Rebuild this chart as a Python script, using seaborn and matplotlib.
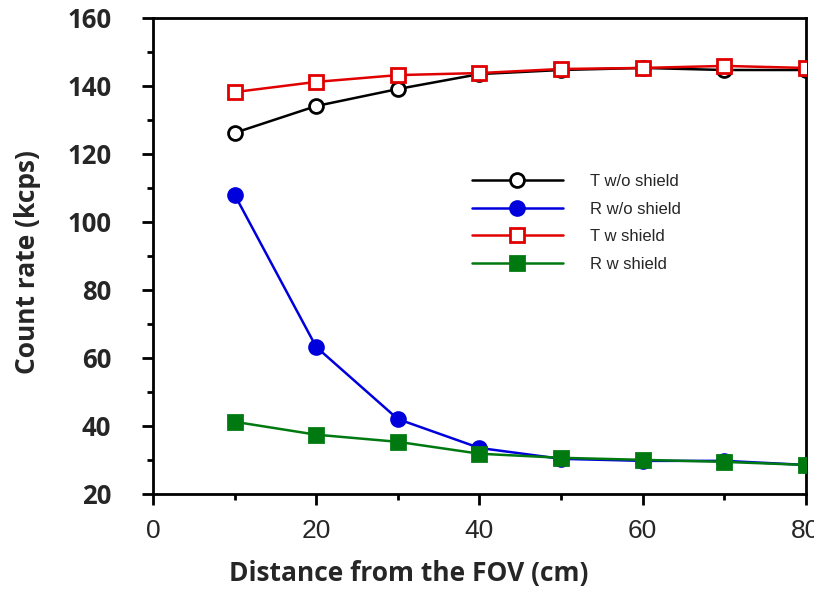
import pandas as pd
import matplotlib
matplotlib.use("Agg")
import matplotlib.pyplot as plt
import seaborn as sns
from matplotlib.ticker import MultipleLocator

# values
distance = [10, 20, 30, 40, 50, 60, 70, 80]
t_wo_shield = [126.2, 134.1, 139.1, 143.5, 144.7, 145.3, 144.7, 144.7]
r_wo_shield = [108.0, 63.2, 42.0, 33.5, 30.3, 29.7, 29.7, 28.5]
t_w_shield = [138.2, 141.2, 143.2, 143.8, 145.0, 145.3, 145.9, 145.3]
r_w_shield = [41.2, 37.4, 35.3, 31.8, 30.6, 30.0, 29.4, 28.5]

labels = ["T w/o shield", "R w/o shield", "T w shield", "R w shield"]

sns.set_style("ticks")
plt.rcParams["font.family"] = ["Open Sans", "DejaVu Sans"]

fig = plt.figure(figsize=(8.14, 5.9), dpi=100)
ax = fig.add_axes([0.188, 0.163, 0.802, 0.8065])

series = [
    (t_wo_shield, "black", "o", "white"),
    (r_wo_shield, "#0000dd", "o", "#0000dd"),
    (t_w_shield, "#e00000", "s", "white"),
    (r_w_shield, "#007a10", "s", "#007a10"),
]

for (vals, col, mk, face), lab in zip(series, labels):
    sns.lineplot(x=distance, y=vals, ax=ax, color=col, marker=mk,
                 markerfacecolor=face, markeredgecolor=col,
                 markeredgewidth=2, markersize=10 if mk == "o" else 10.5,
                 linewidth=1.8, label=lab, zorder=3)

ax.set_xlim(0, 80)
ax.set_ylim(20, 160)
ax.xaxis.set_major_locator(MultipleLocator(20))
ax.xaxis.set_minor_locator(MultipleLocator(10))
ax.yaxis.set_major_locator(MultipleLocator(20))
ax.yaxis.set_minor_locator(MultipleLocator(10))

for s in ax.spines.values():
    s.set_linewidth(2)
    s.set_color("black")
ax.tick_params(which="major", direction="out", length=8, width=2, color="black")
ax.tick_params(which="minor", direction="out", length=4, width=2, color="black")
ax.tick_params(axis="y", which="major", labelsize=18.5, pad=22)
ax.tick_params(axis="x", which="major", labelsize=19, pad=10)
for t in ax.get_yticklabels():
    t.set_fontweight("bold")
for t in ax.get_xticklabels():
    t.set_family(["Liberation Sans", "DejaVu Sans"])

ax.set_xlabel("Distance from the FOV (cm)", fontsize=19, fontweight="bold")
ax.set_ylabel("Count rate (kcps)", fontsize=19, fontweight="bold")
ax.xaxis.set_label_coords(0.392, -0.14)
ax.yaxis.set_label_coords(-0.172, 0.487)

leg = ax.legend(loc="upper left", bbox_to_anchor=(0.488, 0.672), frameon=False,
                fontsize=12, handlelength=5.5, handletextpad=1.6,
                labelspacing=0.75, borderpad=0, borderaxespad=0)
for t in leg.get_texts():
    t.set_family(["Liberation Sans", "DejaVu Sans"])

fig.savefig("out.png", dpi=100)
